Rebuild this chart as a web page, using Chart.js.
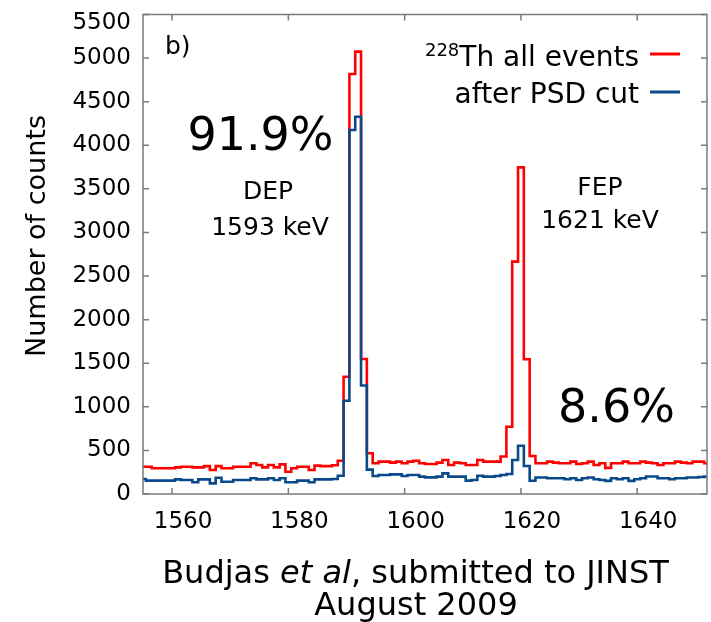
<!DOCTYPE html>
<html>
<head>
<meta charset="utf-8">
<script src="https://cdn.jsdelivr.net/npm/chart.js@4.4.0/dist/chart.umd.min.js"></script>
<style>
  html, body { margin: 0; padding: 0; background: #ffffff; }
  #wrap { width: 711px; height: 622px; }
</style>
</head>
<body>
<div id="wrap"><canvas id="c" width="711" height="622"></canvas></div>
<script>
// Energy bin centres (keV), 1 keV bins
const energyKeV = [
  1555, 1556, 1557, 1558, 1559, 1560, 1561, 1562, 1563, 1564,
  1565, 1566, 1567, 1568, 1569, 1570, 1571, 1572, 1573, 1574,
  1575, 1576, 1577, 1578, 1579, 1580, 1581, 1582, 1583, 1584,
  1585, 1586, 1587, 1588, 1589, 1590, 1591, 1592, 1593, 1594,
  1595, 1596, 1597, 1598, 1599, 1600, 1601, 1602, 1603, 1604,
  1605, 1606, 1607, 1608, 1609, 1610, 1611, 1612, 1613, 1614,
  1615, 1616, 1617, 1618, 1619, 1620, 1621, 1622, 1623, 1624,
  1625, 1626, 1627, 1628, 1629, 1630, 1631, 1632, 1633, 1634,
  1635, 1636, 1637, 1638, 1639, 1640, 1641, 1642, 1643, 1644,
  1645, 1646, 1647, 1648, 1649, 1650, 1651, 1652
];

// 228Th calibration spectrum, all events
const allEvents = [
  313, 313, 295, 295, 295, 295, 305, 313, 313, 305,
  305, 320, 275, 320, 295, 295, 313, 313, 313, 352,
  333, 305, 333, 305, 340, 256, 295, 313, 313, 275,
  325, 320, 320, 330, 382, 1345, 4818, 5074, 1548, 467,
  352, 371, 371, 360, 371, 352, 371, 382, 352, 344,
  344, 360, 390, 333, 360, 352, 333, 333, 390, 371,
  371, 371, 430, 772, 2665, 3747, 1545, 436, 352, 352,
  371, 360, 352, 352, 371, 344, 352, 371, 333, 352,
  300, 352, 352, 371, 352, 352, 371, 360, 352, 333,
  352, 352, 371, 360, 352, 371, 371, 352
];

// Same spectrum after the pulse-shape-discrimination cut
const afterPSD = [
  172, 153, 153, 153, 153, 153, 168, 161, 161, 134,
  168, 168, 122, 187, 141, 141, 161, 161, 161, 180,
  168, 168, 180, 161, 180, 134, 134, 153, 153, 134,
  168, 168, 168, 172, 210, 1070, 4175, 4328, 1245, 280,
  206, 218, 218, 225, 225, 206, 218, 218, 199, 191,
  191, 199, 237, 199, 199, 199, 153, 161, 210, 199,
  199, 206, 218, 230, 390, 554, 321, 152, 190, 190,
  180, 180, 180, 170, 180, 160, 180, 190, 170, 160,
  150, 180, 170, 180, 150, 170, 180, 200, 200, 180,
  180, 170, 180, 180, 190, 190, 195, 199
];

const xTicks = [1560, 1580, 1600, 1620, 1640];
const yTicks = [0, 500, 1000, 1500, 2000, 2500, 3000, 3500, 4000, 4500, 5000, 5500];

const FONT = "'DejaVu Sans', sans-serif";
const RED = '#ff0000';
const BLUE = '#0a4a8a';

function toPoints(values) {
  return energyKeV.map((e, i) => ({ x: e, y: values[i] }));
}

// Frame with inward ticks, y tick labels, axis titles, annotations and legend
const decor = {
  id: 'decor',
  afterDatasetsDraw(chart) {
    const { ctx, chartArea: a, scales: { x, y } } = chart;
    ctx.save();

    ctx.strokeStyle = '#7a7a7a';
    ctx.lineWidth = 1.5;
    ctx.strokeRect(a.left, a.top, a.right - a.left, a.bottom - a.top);

    const L = 6;
    ctx.beginPath();
    xTicks.forEach(v => {
      const px = x.getPixelForValue(v);
      ctx.moveTo(px, a.bottom); ctx.lineTo(px, a.bottom - L);
      ctx.moveTo(px, a.top); ctx.lineTo(px, a.top + L);
    });
    yTicks.forEach(v => {
      const py = y.getPixelForValue(v);
      ctx.moveTo(a.left, py); ctx.lineTo(a.left + L, py);
      ctx.moveTo(a.right, py); ctx.lineTo(a.right - L, py);
    });
    ctx.stroke();

    ctx.fillStyle = '#000000';

    // y tick labels (top one kept inside the canvas)
    ctx.font = `23px ${FONT}`;
    ctx.textAlign = 'right';
    ctx.textBaseline = 'middle';
    yTicks.forEach(v => {
      const py = Math.max(y.getPixelForValue(v), a.top + 8.5);
      ctx.fillText(String(v), a.left - 12, py);
    });

    // y-axis title
    ctx.save();
    ctx.translate(38, 236);
    ctx.rotate(-Math.PI / 2);
    ctx.font = `27px ${FONT}`;
    ctx.textAlign = 'center';
    ctx.textBaseline = 'middle';
    ctx.fillText('Number of counts', 0, 0);
    ctx.restore();

    // x-axis title (two lines, "et al" in italics)
    const parts = [
      { t: 'Budjas ', f: `32px ${FONT}` },
      { t: 'et al', f: `italic 32px ${FONT}` },
      { t: ', submitted to JINST', f: `32px ${FONT}` }
    ];
    let total = 0;
    parts.forEach(p => { ctx.font = p.f; p.w = ctx.measureText(p.t).width; total += p.w; });
    let cx = 415.5 - total / 2;
    ctx.textAlign = 'left';
    ctx.textBaseline = 'alphabetic';
    parts.forEach(p => { ctx.font = p.f; ctx.fillText(p.t, cx, 583); cx += p.w; });
    ctx.font = `32px ${FONT}`;
    ctx.textAlign = 'center';
    ctx.fillText('August 2009', 416, 615);

    // panel tag
    ctx.textAlign = 'left';
    ctx.font = `25px ${FONT}`;
    ctx.fillText('b)', 165, 54);

    // peak annotations
    ctx.textAlign = 'center';
    ctx.font = `46px ${FONT}`;
    ctx.fillText('91.9%', 260.5, 150);
    ctx.fillText('8.6%', 616.5, 422);
    ctx.font = `25px ${FONT}`;
    ctx.fillText('DEP', 268, 199);
    ctx.fillText('1593 keV', 270, 235);
    ctx.fillText('FEP', 600, 195);
    ctx.fillText('1621 keV', 600, 228);

    // legend
    const rightEdge = 639;
    ctx.textAlign = 'right';
    ctx.font = `28px ${FONT}`;
    const main = 'Th all events';
    const mw = ctx.measureText(main).width;
    ctx.fillText(main, rightEdge, 66);
    ctx.font = `18px ${FONT}`;
    ctx.fillText('228', rightEdge - mw, 56);
    ctx.font = `28px ${FONT}`;
    ctx.fillText('after PSD cut', rightEdge, 103);

    ctx.lineWidth = 3;
    ctx.strokeStyle = RED;
    ctx.beginPath(); ctx.moveTo(650, 54); ctx.lineTo(680, 54); ctx.stroke();
    ctx.strokeStyle = BLUE;
    ctx.beginPath(); ctx.moveTo(650, 92); ctx.lineTo(680, 92); ctx.stroke();

    ctx.restore();
  }
};

new Chart(document.getElementById('c'), {
  type: 'line',
  data: {
    datasets: [
      {
        label: 'after PSD cut',
        data: toPoints(afterPSD),
        borderColor: BLUE,
        borderWidth: 2.6,
        stepped: 'middle',
        pointRadius: 0,
        fill: false,
        order: 0
      },
      {
        label: '228Th all events',
        data: toPoints(allEvents),
        borderColor: RED,
        borderWidth: 2.6,
        stepped: 'middle',
        pointRadius: 0,
        fill: false,
        order: 1
      }
    ]
  },
  options: {
    responsive: false,
    animation: false,
    devicePixelRatio: 1,
    layout: { padding: { top: 14.5, right: 4, left: 0, bottom: 0 } },
    plugins: { legend: { display: false }, tooltip: { enabled: false } },
    scales: {
      x: {
        type: 'linear',
        min: 1555,
        max: 1652,
        afterBuildTicks: s => { s.ticks = xTicks.map(v => ({ value: v })); },
        grid: { display: false, drawTicks: false },
        border: { display: false },
        ticks: {
          font: { family: FONT, size: 23 },
          color: '#000000',
          padding: 14,
          labelOffset: 11,
          maxRotation: 0,
          autoSkip: false,
          callback: v => String(v)
        },
        afterFit: s => { s.height = 622 - 494; }
      },
      y: {
        type: 'linear',
        min: 0,
        max: 5500,
        afterBuildTicks: s => { s.ticks = yTicks.map(v => ({ value: v })); },
        grid: { display: false, drawTicks: false },
        border: { display: false },
        ticks: { display: false },
        afterFit: s => { s.width = 143; }
      }
    }
  },
  plugins: [decor]
});
</script>
</body>
</html>
